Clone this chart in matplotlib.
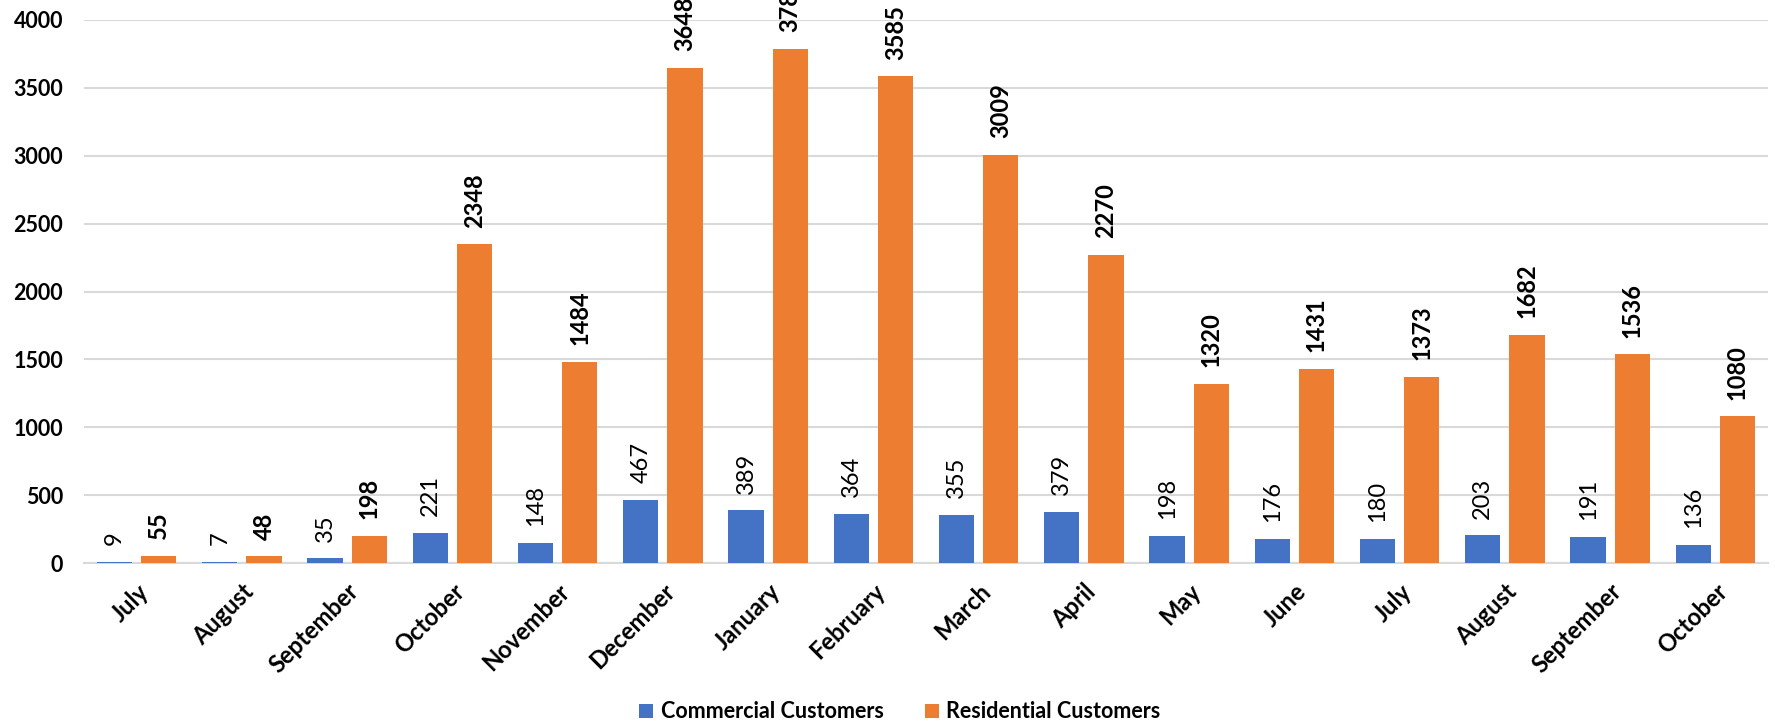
import matplotlib
matplotlib.use("Agg")
import matplotlib.pyplot as plt
import numpy as np

months = ["July", "August", "September", "October", "November", "December",
          "January", "February", "March", "April", "May", "June",
          "July", "August", "September", "October"]
commercial = [9, 7, 35, 221, 148, 467, 389, 364, 355, 379, 198, 176, 180, 203, 191, 136]
residential = [55, 48, 198, 2348, 1484, 3648, 3788, 3585, 3009, 2270, 1320, 1431, 1373, 1682, 1536, 1080]
yticks = [0, 500, 1000, 1500, 2000, 2500, 3000, 3500, 4000]

BLUE = "#4472C4"
ORANGE = "#ED7D31"
GRID = "#D9D9D9"

plt.rcParams["font.family"] = ["Lato", "DejaVu Sans"]

fig = plt.figure(figsize=(17.75, 7.25), dpi=100)
ax = fig.add_axes([84 / 1775, 1 - 563 / 725, (1768 - 84) / 1775, (563 - 20) / 725])

x = np.arange(len(months))
w = 0.333
off = 0.21
b1 = ax.bar(x - off, commercial, width=w, color=BLUE, label="Commercial Customers", zorder=3)
b2 = ax.bar(x + off, residential, width=w, color=ORANGE, label="Residential Customers", zorder=3)

for xi, v in zip(x, commercial):
    ax.annotate(str(v), (xi - off, v), xytext=(0, 12), textcoords="offset points",
                rotation=90, ha="center", va="bottom", fontsize=17,
                color="black", annotation_clip=False)
for xi, v in zip(x, residential):
    ax.annotate(str(v), (xi + off, v), xytext=(0, 12), textcoords="offset points",
                rotation=90, ha="center", va="bottom", fontsize=17, fontweight="bold",
                color="black", annotation_clip=False)

ax.set_xlim(-0.5, len(months) - 0.5)
ax.set_ylim(0, 4000)
ax.set_yticks(yticks)
ax.set_yticklabels([str(t) for t in yticks], fontsize=15.5, fontweight="bold")
ax.yaxis.grid(True, color=GRID, linewidth=1.5, zorder=0)
ax.set_axisbelow(True)
ax.tick_params(axis="y", length=0, pad=15)
ax.tick_params(axis="x", length=0, pad=12)
ax.set_xticks(x)
ax.set_xticklabels(months, rotation=45, ha="right", rotation_mode="anchor",
                   fontsize=17, fontweight="bold")
for s in ["top", "right", "left"]:
    ax.spines[s].set_visible(False)
ax.spines["bottom"].set_color(GRID)
ax.spines["bottom"].set_linewidth(1.5)

fig.legend(handles=[b1, b2], loc="center", bbox_to_anchor=(900 / 1775, 1 - 712 / 725),
           ncol=2, frameon=False, prop={"size": 15.5, "weight": "bold"},
           handlelength=0.65, handleheight=0.65, columnspacing=1.9, handletextpad=0.35)

fig.savefig("out.png", dpi=100)
